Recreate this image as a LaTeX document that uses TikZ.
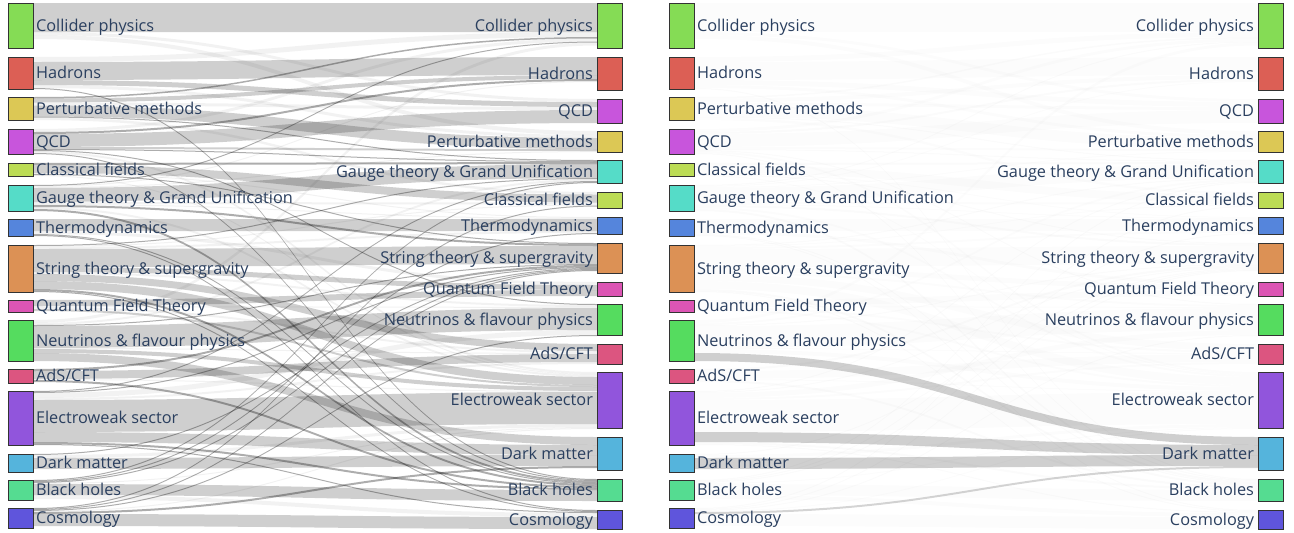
\documentclass[tikz,border=0pt]{standalone}
\usepackage{fontspec}
\setmainfont{Open Sans}
\pgfdeclarelayer{bg}
\pgfsetlayers{bg,main}
\definecolor{txt}{HTML}{2A3F5F}
\definecolor{cColl}{HTML}{85DC55}
\definecolor{cHad}{HTML}{DC5F55}
\definecolor{cPert}{HTML}{DCC855}
\definecolor{cQCD}{HTML}{C855DC}
\definecolor{cClass}{HTML}{BCDC55}
\definecolor{cGauge}{HTML}{55DCC8}
\definecolor{cThermo}{HTML}{5585DC}
\definecolor{cString}{HTML}{DC9155}
\definecolor{cQFT}{HTML}{DC55B4}
\definecolor{cNeut}{HTML}{55DC5F}
\definecolor{cAdS}{HTML}{DC5580}
\definecolor{cEW}{HTML}{9155DC}
\definecolor{cDM}{HTML}{55B4DC}
\definecolor{cBH}{HTML}{55DC91}
\definecolor{cCosmo}{HTML}{5F55DC}
\tikzset{
  nd/.style={draw=black!80, line width=0.6pt, minimum width=25pt, inner sep=0pt, outer sep=0pt, anchor=north west},
  lbl/.style={text=txt, inner sep=0pt, outer sep=0pt, font=\fontsize{16.3}{19}\selectfont},
  lkb/.style={fill=black, fill opacity=0.19},
  lkl/.style={fill=black, fill opacity=0.32},
  lkf/.style={fill=black, fill opacity=0.05},
  lkdb/.style={fill=black, fill opacity=0.19},
  lkdl/.style={fill=black, fill opacity=0.32},
  ghost/.style={
    lkb/.style={fill=black, fill opacity=0.012},
    lkl/.style={fill=black, fill opacity=0.015},
    lkf/.style={fill=black, fill opacity=0.01},
    lkdb/.style={fill=black, fill opacity=0.19},
    lkdl/.style={fill=black, fill opacity=0.17}}
}
% source index, target index, width, style code
\newcommand\sklink[4]{%
  \edef\skA{\skLP#1}\edef\skB{\skRP#2}%
  \ifcsname skso\skA\endcsname\else\expandafter\xdef\csname skso\skA\endcsname{0}\fi
  \ifcsname skti\skB\endcsname\else\expandafter\xdef\csname skti\skB\endcsname{0}\fi
  \edef\skfa{\csname skso\skA\endcsname}\edef\skfb{\csname skti\skB\endcsname}%
  \pgfmathsetmacro\skfc{\skfa+#3}\pgfmathsetmacro\skfd{\skfb+#3}%
  \fill[lk#4] ([yshift=-\skfa pt]\skA.north east) .. controls +(282,0) and +(-282,0) .. ([yshift=-\skfb pt]\skB.north west)
     -- ([yshift=-\skfd pt]\skB.north west) .. controls +(-282,0) and +(282,0) .. ([yshift=-\skfc pt]\skA.north east) -- cycle;
  \expandafter\xdef\csname skso\skA\endcsname{\skfc}%
  \expandafter\xdef\csname skti\skB\endcsname{\skfd}%
}
\newcommand\sklinks{%
\sklink{1}{1}{29}{b}\sklink{1}{3}{3}{f}\sklink{1}{4}{4}{f}%
\sklink{2}{1}{5}{f}\sklink{2}{2}{18}{b}\sklink{2}{3}{5}{b}\sklink{2}{4}{3}{f}\sklink{2}{14}{1}{l}%
\sklink{3}{1}{1.5}{l}\sklink{3}{2}{4}{b}\sklink{3}{3}{3}{f}\sklink{3}{4}{11}{b}\sklink{3}{5}{1}{l}\sklink{3}{6}{2.5}{f}%
\sklink{4}{1}{3}{f}\sklink{4}{2}{2}{l}\sklink{4}{3}{13}{b}\sklink{4}{4}{2}{b}\sklink{4}{5}{1}{l}\sklink{4}{10}{1}{l}\sklink{4}{12}{2}{f}\sklink{4}{14}{1}{l}%
\sklink{5}{5}{2}{l}\sklink{5}{6}{8}{b}\sklink{5}{7}{1}{f}\sklink{5}{8}{1}{l}\sklink{5}{12}{1}{f}%
\sklink{6}{1}{1}{l}\sklink{6}{2}{1}{f}\sklink{6}{4}{1}{f}\sklink{6}{5}{14}{b}\sklink{6}{6}{2}{f}\sklink{6}{7}{1}{f}\sklink{6}{8}{2}{l}\sklink{6}{12}{2}{f}\sklink{6}{14}{2}{l}%
\sklink{7}{7}{12}{b}\sklink{7}{9}{3}{f}\sklink{7}{14}{1}{l}\sklink{7}{15}{1}{l}%
\sklink{8}{5}{1}{l}\sklink{8}{6}{1}{f}\sklink{8}{7}{2}{f}\sklink{8}{8}{18}{b}\sklink{8}{9}{5}{b}\sklink{8}{10}{2}{f}\sklink{8}{11}{7}{b}\sklink{8}{12}{8}{b}\sklink{8}{14}{2}{l}\sklink{8}{15}{1}{l}%
\sklink{9}{9}{6}{b}\sklink{9}{10}{1}{f}\sklink{9}{11}{2}{f}\sklink{9}{12}{2}{b}%
\sklink{10}{1}{3}{f}\sklink{10}{5}{2}{f}\sklink{10}{8}{1}{l}\sklink{10}{10}{22}{b}\sklink{10}{11}{1}{f}\sklink{10}{12}{4}{b}\sklink{10}{13}{8}{db}%
\sklink{11}{8}{2}{l}\sklink{11}{11}{8}{b}\sklink{11}{12}{1}{f}\sklink{11}{14}{2}{l}%
\sklink{12}{5}{1}{l}\sklink{12}{8}{1}{l}\sklink{12}{10}{5}{f}\sklink{12}{11}{2}{f}\sklink{12}{12}{32}{b}\sklink{12}{13}{10}{db}\sklink{12}{14}{2}{l}\sklink{12}{15}{1}{l}%
\sklink{13}{8}{1}{l}\sklink{13}{12}{3}{f}\sklink{13}{13}{11}{db}%
\sklink{14}{5}{1}{l}\sklink{14}{7}{1}{l}\sklink{14}{8}{1}{l}\sklink{14}{12}{1}{f}\sklink{14}{14}{11}{b}\sklink{14}{15}{4}{f}%
\sklink{15}{6}{1}{l}\sklink{15}{8}{1}{l}\sklink{15}{10}{1}{l}\sklink{15}{12}{1}{f}\sklink{15}{13}{2}{dl}\sklink{15}{15}{12}{b}%
}
% name, x, ytop, height, colour, label
\newcommand\sknodeL[6]{%
  \node[nd, fill=#5, minimum height=#4pt] (#1) at (#2,#3) {};
  \node[lbl, anchor=base west] (#1t) at ([xshift=3pt,yshift=-5.7pt]#1.east) {#6};}
\newcommand\sknodeR[6]{%
  \node[nd, fill=#5, minimum height=#4pt] (#1) at (#2,#3) {};
  \node[lbl, anchor=base east] (#1t) at ([xshift=-4pt,yshift=-5.7pt]#1.west) {#6};}
\newcommand\skleftcol[2]{% prefix, x
  \sknodeL{#11}{#2}{3}{45}{cColl}{Collider physics}
  \sknodeL{#12}{#2}{57}{32}{cHad}{Hadrons}
  \sknodeL{#13}{#2}{97}{23}{cPert}{Perturbative methods}
  \sknodeL{#14}{#2}{129}{25}{cQCD}{QCD}
  \sknodeL{#15}{#2}{163}{13}{cClass}{Classical fields}
  \sknodeL{#16}{#2}{185}{26}{cGauge}{Gauge theory \& Grand Unification}
  \sknodeL{#17}{#2}{219}{17}{cThermo}{Thermodynamics}
  \sknodeL{#18}{#2}{245}{47}{cString}{String theory \& supergravity}
  \sknodeL{#19}{#2}{300}{12}{cQFT}{Quantum Field Theory}
  \sknodeL{#110}{#2}{320}{41}{cNeut}{Neutrinos \& flavour physics}
  \sknodeL{#111}{#2}{369}{14}{cAdS}{AdS/CFT}
  \sknodeL{#112}{#2}{391}{54}{cEW}{Electroweak sector}
  \sknodeL{#113}{#2}{454}{18}{cDM}{Dark matter}
  \sknodeL{#114}{#2}{480}{20}{cBH}{Black holes}
  \sknodeL{#115}{#2}{508}{20}{cCosmo}{Cosmology}}
\newcommand\skrightcol[2]{% prefix, x
  \sknodeR{#11}{#2}{3}{45}{cColl}{Collider physics}
  \sknodeR{#12}{#2}{57}{33}{cHad}{Hadrons}
  \sknodeR{#13}{#2}{99}{24}{cQCD}{QCD}
  \sknodeR{#14}{#2}{131}{21}{cPert}{Perturbative methods}
  \sknodeR{#15}{#2}{160}{23}{cGauge}{Gauge theory \& Grand Unification}
  \sknodeR{#16}{#2}{192}{16}{cClass}{Classical fields}
  \sknodeR{#17}{#2}{217}{17}{cThermo}{Thermodynamics}
  \sknodeR{#18}{#2}{243}{30}{cString}{String theory \& supergravity}
  \sknodeR{#19}{#2}{282}{14}{cQFT}{Quantum Field Theory}
  \sknodeR{#110}{#2}{304}{31}{cNeut}{Neutrinos \& flavour physics}
  \sknodeR{#111}{#2}{344}{20}{cAdS}{AdS/CFT}
  \sknodeR{#112}{#2}{372}{56}{cEW}{Electroweak sector}
  \sknodeR{#113}{#2}{437}{33}{cDM}{Dark matter}
  \sknodeR{#114}{#2}{479}{22}{cBH}{Black holes}
  \sknodeR{#115}{#2}{510}{19}{cCosmo}{Cosmology}}
\begin{document}
\begin{tikzpicture}[x=1pt,y=-1pt]
\useasboundingbox (0,0) rectangle (1294,533);
\skleftcol{L}{8}
\skrightcol{R}{597}
\skleftcol{P}{669}
\skrightcol{Q}{1258}
\begin{pgfonlayer}{bg}
  \fill[white] (0,0) rectangle (1294,533);
  \def\skLP{L}\def\skRP{R}\sklinks
  \begin{scope}[ghost]
    \def\skLP{P}\def\skRP{Q}\sklinks
  \end{scope}
\end{pgfonlayer}
\end{tikzpicture}
\end{document}
